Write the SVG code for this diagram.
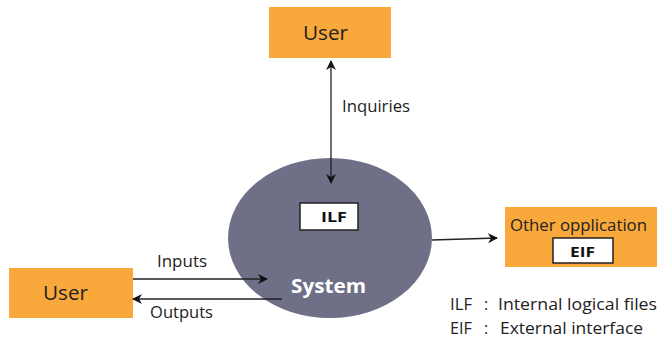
<svg xmlns="http://www.w3.org/2000/svg" width="659" height="343" viewBox="0 0 659 343">
  <defs>
    <marker id="arrow" viewBox="0 0 10 10" refX="9" refY="5" markerWidth="10" markerHeight="10" markerUnits="userSpaceOnUse" orient="auto-start-reverse">
      <path d="M0,0 L10,5 L0,10 L3,5 z" fill="#111"/>
    </marker>
    <style>
      .box { fill: #F9A83B; }
      .tag { fill: #fff; stroke: #222; stroke-width: 1.5; }
      .label { font-family: "Open Sans", "Noto Sans", sans-serif; fill: #222; font-size: 16px; }
      .big { font-size: 20px; }
      .bold { font-family: "Open Sans", "Noto Sans", sans-serif; font-weight: bold; fill: #111; font-size: 15px; }
      .conn { stroke: #222; stroke-width: 1.3; fill: none; }
    </style>
  </defs>
  <rect width="659" height="343" fill="#fff"/>

  <!-- system boundary -->
  <g id="system">
    <ellipse cx="330" cy="238" rx="102" ry="80" fill="#6F6F88"/>
    <text x="291" y="293" font-family="Open Sans, Noto Sans, sans-serif" font-weight="bold" font-size="20" fill="#fff" textLength="75" lengthAdjust="spacingAndGlyphs">System</text>
  </g>

  <g id="ilf">
    <rect class="tag" x="300" y="203" width="58" height="27"/>
    <text class="bold" x="321" y="222" textLength="26" lengthAdjust="spacingAndGlyphs">ILF</text>
  </g>

  <g id="user-top">
    <rect class="box" x="269" y="7" width="122" height="51"/>
    <text class="label big" x="303" y="40" textLength="45" lengthAdjust="spacingAndGlyphs">User</text>
  </g>

  <g id="user-left">
    <rect class="box" x="9" y="268" width="124" height="50"/>
    <text class="label big" x="43" y="300" textLength="45" lengthAdjust="spacingAndGlyphs">User</text>
  </g>

  <g id="other-application">
    <rect class="box" x="505" y="207" width="152" height="60"/>
    <text class="label" x="510" y="231" textLength="137" lengthAdjust="spacingAndGlyphs">Other opplication</text>
    <rect class="tag" x="553" y="238" width="60" height="25"/>
    <text class="bold" x="570" y="257" textLength="25" lengthAdjust="spacingAndGlyphs">EIF</text>
  </g>

  <g id="legend">
    <text class="label" x="450" y="310" textLength="22" lengthAdjust="spacingAndGlyphs">ILF</text>
    <text class="label" x="484" y="310">:</text>
    <text class="label" x="498" y="310" textLength="159" lengthAdjust="spacingAndGlyphs">Internal logical files</text>
    <text class="label" x="450" y="334" textLength="22" lengthAdjust="spacingAndGlyphs">EIF</text>
    <text class="label" x="484" y="334">:</text>
    <text class="label" x="500" y="334" textLength="143" lengthAdjust="spacingAndGlyphs">External interface</text>
  </g>

  <g id="connectors">
    <line class="conn" x1="331" y1="183" x2="331" y2="61" marker-start="url(#arrow)" marker-end="url(#arrow)"/>
    <text class="label" x="342" y="112" textLength="68" lengthAdjust="spacingAndGlyphs">Inquiries</text>

    <line class="conn" x1="133" y1="279" x2="267" y2="279" marker-end="url(#arrow)"/>
    <text class="label" x="157" y="267" textLength="50" lengthAdjust="spacingAndGlyphs">Inputs</text>

    <line class="conn" x1="282" y1="299" x2="133" y2="299" marker-end="url(#arrow)"/>
    <text class="label" x="150" y="318" textLength="63" lengthAdjust="spacingAndGlyphs">Outputs</text>

    <line class="conn" x1="432" y1="240" x2="497" y2="238" marker-end="url(#arrow)"/>
  </g>
</svg>
